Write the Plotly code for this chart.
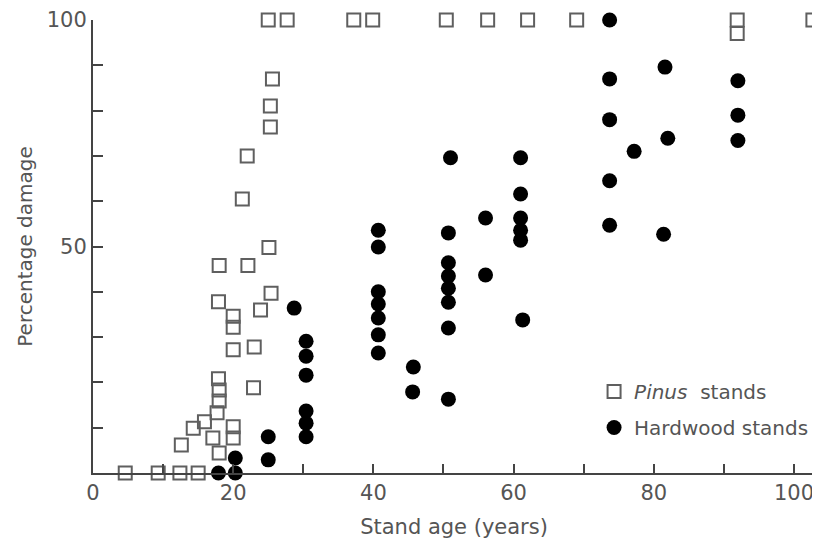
import plotly.graph_objects as go

# Pinus stands (open squares)
pinus_age = [25.0, 27.7, 37.2, 39.9, 50.4, 56.3, 62.0, 69.0, 91.9, 91.9, 102.7,
             25.6, 25.3, 25.3, 22.0, 21.3, 25.1, 18.0, 22.1, 17.9, 25.4, 23.9,
             20.0, 20.0, 20.0, 23.0, 22.9, 17.9, 18.0, 18.0, 17.7, 15.9, 14.3,
             12.6, 17.1, 20.0, 20.0, 18.0, 4.6, 9.3, 12.4, 15.0]
pinus_damage = [100, 100, 100, 100, 100, 100, 100, 100, 100, 97, 100,
                87, 81, 76.4, 70, 60.5, 49.8, 45.8, 45.8, 37.8, 39.7, 36,
                34.6, 32.2, 27.2, 27.8, 18.8, 20.8, 18.3, 15.9, 13.3, 11.3, 9.9,
                6.2, 7.7, 10.2, 7.7, 4.4, 0, 0, 0, 0]

# Hardwood stands (filled circles)
hard_age = [73.7, 73.7, 73.7, 77.2, 73.7, 73.7, 81.6, 82.0, 81.4, 92.0, 92.0, 92.0,
            51.0, 61.0, 61.0, 56.0, 61.0, 61.0, 61.0, 61.3, 56.0,
            40.7, 40.7, 40.7, 40.7, 40.7, 40.7, 40.7,
            45.7, 45.6,
            50.7, 50.7, 50.7, 50.7, 50.7, 50.7, 50.7,
            28.7, 30.4, 30.4, 30.4, 30.4, 30.4, 30.4,
            25.0, 25.0, 17.9, 20.3, 20.3]
hard_damage = [100, 87, 78, 71, 64.5, 54.7, 89.6, 73.9, 52.7, 86.6, 79, 73.4,
               69.6, 69.6, 61.6, 56.3, 56.3, 53.6, 51.4, 33.8, 43.7,
               53.6, 49.9, 40, 37.3, 34.2, 30.5, 26.5,
               23.4, 17.9,
               53, 46.4, 43.5, 40.8, 37.7, 32, 16.3,
               36.4, 29.1, 25.8, 21.6, 13.7, 11, 8,
               8, 2.9, 0, 0, 3.3]

x_tickvals = [0, 10, 20, 30, 40, 50, 60, 70, 80, 90, 100]
x_ticktext = ["0", "", "20", "", "40", "", "60", "", "80", "", "100"]
y_tickvals = [0, 10, 20, 30, 40, 50, 60, 70, 80, 90, 100]
y_ticktext = ["", "", "", "", "", "50", "", "", "", "", "100"]

TEXT = "#555555"
AXIS = "#444444"
FONT = "DejaVu Sans"

fig = go.Figure()
fig.add_trace(go.Scatter(
    x=pinus_age, y=pinus_damage, mode="markers",
    name="<i>Pinus</i>&nbsp; stands", legendgroup="p",
    marker=dict(symbol="square-open", size=13, color="#5f5f5f",
                line=dict(width=2, color="#5f5f5f")),
    cliponaxis=False,
))
fig.add_trace(go.Scatter(
    x=hard_age, y=hard_damage, mode="markers",
    name="Hardwood stands", legendgroup="h",
    marker=dict(symbol="circle", size=15, color="#000000"),
    cliponaxis=False,
))

fig.update_layout(
    width=812, height=537,
    margin=dict(l=85, r=5, t=12, b=72, autoexpand=False),
    paper_bgcolor="white", plot_bgcolor="white",
    font=dict(family=FONT, size=21, color=TEXT),
    showlegend=True,
    legend=dict(x=0.694, y=0.223, xanchor="left", yanchor="top",
                bgcolor="rgba(0,0,0,0)", tracegroupgap=7,
                font=dict(family=FONT, size=20, color=TEXT), itemwidth=30),
    xaxis=dict(range=[0, 103], tickvals=x_tickvals, ticktext=x_ticktext,
               automargin=False,
               ticks="inside", ticklen=9, tickwidth=2, tickcolor=AXIS,
               tickfont=dict(family=FONT, size=21, color=TEXT),
               ticklabelstandoff=0,
               showline=True, linecolor=AXIS, linewidth=2,
               showgrid=False, zeroline=False,
               title=dict(text="Stand age (years)", standoff=15,
                          font=dict(family=FONT, size=21, color=TEXT))),
    yaxis=dict(range=[0, 100], tickvals=y_tickvals, ticktext=y_ticktext,
               automargin=False,
               ticks="inside", ticklen=10, tickwidth=2, tickcolor=AXIS,
               tickfont=dict(family=FONT, size=21, color=TEXT),
               showline=True, linecolor=AXIS, linewidth=2,
               showgrid=False, zeroline=False,
               title=dict(text="Percentage damage", standoff=9,
                          font=dict(family=FONT, size=20, color=TEXT))),
)

fig.write_html("out.html")
